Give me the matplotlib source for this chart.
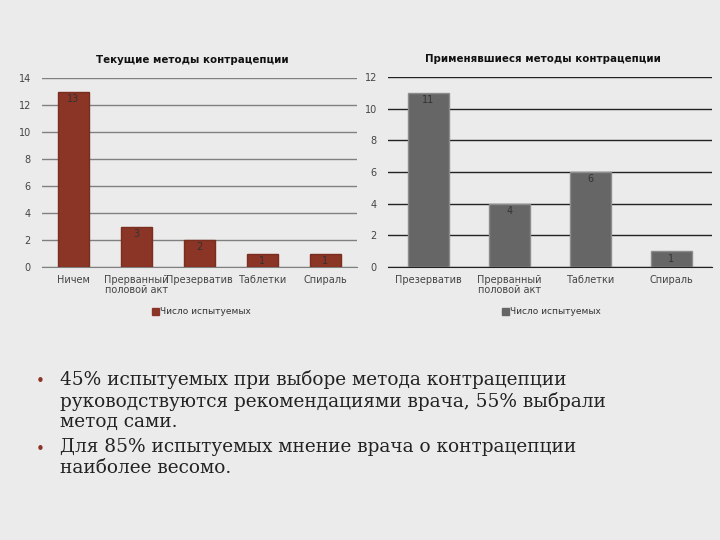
import matplotlib.pyplot as plt
from matplotlib.patches import Rectangle

# данные
cur_labels = ['Ничем', 'Прерванный\nполовой акт', 'Презерватив', 'Таблетки', 'Спираль']
cur_values = [13, 3, 2, 1, 1]
past_labels = ['Презерватив', 'Прерванный\nполовой акт', 'Таблетки', 'Спираль']
past_values = [11, 4, 6, 1]
legend_text = 'Число испытуемых'
bullets = [
    '45% испытуемых при выборе метода контрацепции\nруководствуются рекомендациями врача, 55% выбрали\nметод сами.',
    'Для 85% испытуемых мнение врача о контрацепции\nнаиболее весомо.',
]

W, H = 720, 540
bg = '#ebebeb'
fig = plt.figure(figsize=(7.2, 5.4), dpi=100, facecolor=bg)


def px_axes(x0, y_top, x1, y_bot):
    return fig.add_axes([x0 / W, 1 - y_bot / H, (x1 - x0) / W, (y_bot - y_top) / H])


def draw_chart(ax, labels, values, ymax, color, edge, gridc, title, width_px):
    ax.set_facecolor(bg)
    x = range(len(values))
    bars = ax.bar(x, values, width=0.5, color=color, edgecolor=edge, linewidth=1, zorder=3)
    for b, v in zip(bars, values):
        ax.text(b.get_x() + b.get_width() / 2, v - 0.15, str(v), ha='center', va='top',
                fontsize=7, color='#333333', zorder=4)
    ax.set_xlim(-0.5, len(values) - 0.5)
    ax.set_ylim(0, ymax)
    ax.set_yticks(range(0, ymax + 1, 2))
    ax.yaxis.grid(True, color=gridc, linewidth=1, zorder=0)
    ax.set_axisbelow(True)
    for s in ['left', 'right', 'top']:
        ax.spines[s].set_visible(False)
    ax.spines['bottom'].set_color(gridc)
    ax.tick_params(axis='both', length=0, labelsize=7, colors='#444444')
    ax.tick_params(axis='y', pad=8)
    ax.tick_params(axis='x', pad=6)
    ax.set_xticks(list(x))
    ax.set_xticklabels(labels, linespacing=1.0)
    ax.set_title(title, fontsize=7.4, fontweight='bold', pad=11, color='#111111',
                 x=0.5 - 7 / width_px)


ax1 = px_axes(42, 78, 357, 267)
draw_chart(ax1, cur_labels, cur_values, 14, '#8b3526', '#7a2d20', '#808080',
           'Текущие методы контрацепции', 315)

ax2 = px_axes(388, 77, 712, 267)
draw_chart(ax2, past_labels, past_values, 12, '#666666', '#8c8c8c', '#222222',
           'Применявшиеся методы контрацепции', 324)

# легенды
for cx, col in [(152, '#8b3526'), (502, '#666666')]:
    fig.patches.append(Rectangle(((cx) / W, 1 - 315 / H), 7 / W, 7 / H, color=col,
                                 transform=fig.transFigure, figure=fig))
    fig.text((cx + 8) / W, 1 - 311 / H, legend_text, fontsize=6.5, va='center', color='#333333')

# текст
ys = [381, 449]
for y, t in zip(ys, bullets):
    fig.text(40 / W, 1 - y / H, '•', fontsize=11, color='#8b3526', va='center', ha='center',
             family='DejaVu Sans')
    fig.text(60 / W, 1 - (y - 11) / H, t, fontsize=13.3, va='top', family='DejaVu Serif',
             color='#222222', linespacing=1.18)

fig.savefig('out.png', dpi=100, facecolor=bg)
